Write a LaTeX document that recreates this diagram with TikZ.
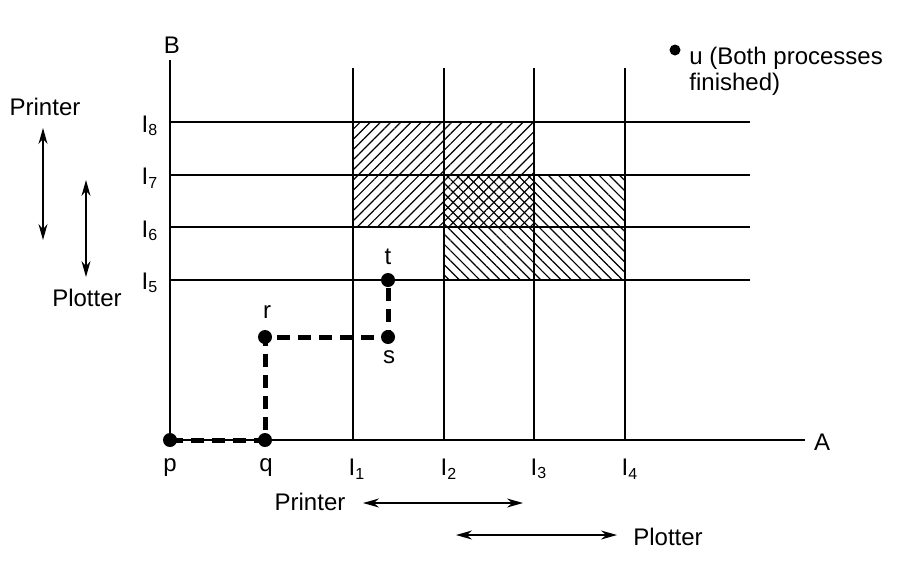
\documentclass[tikz,border=0pt]{standalone}
\usepackage{fontspec}
\setmainfont{Liberation Sans}
\usetikzlibrary{arrows.meta,patterns.meta}
\tikzset{
  axisline/.style={line width=1.2pt},
  gridline/.style={line width=0.7pt},
  dot/.style={circle,fill=black,inner sep=0pt,minimum size=7pt},
  pathline/.style={line width=2.5pt,dash pattern=on 6.5pt off 4pt},
  rangearrow/.style={line width=0.6pt,{Stealth[length=8pt,width=4.5pt]}-{Stealth[length=8pt,width=4.5pt]}},
  printerhatch/.style={pattern={Lines[angle=45,distance=3.6pt,line width=0.6pt]}},
  plotterhatch/.style={pattern={Lines[angle=-45,distance=3.6pt,line width=0.6pt]}},
  lbl/.style={inner sep=1pt,font=\fontsize{12}{13}\selectfont}
}
\begin{document}
\begin{tikzpicture}[x=0.5pt,y=-0.5pt]
      \useasboundingbox (0,0) rectangle (920,574);
      % hatched regions
      \fill[printerhatch] (353,122) rectangle (534,227);
      \fill[plotterhatch] (444,175) rectangle (625,280);
      \draw[gridline] (353,122) rectangle (534,227);
      \draw[gridline] (444,175) rectangle (625,280);
      % grid
      \draw
        (170,440) coordinate (o)
        (170,60) coordinate (btop)
        (805,440) coordinate (aend)
        (353,68) coordinate (c1) (353,440) coordinate (d1)
        (444,68) coordinate (c2) (444,440) coordinate (d2)
        (534,68) coordinate (c3) (534,440) coordinate (d3)
        (625,68) coordinate (c4) (625,440) coordinate (d4)
        (170,122) coordinate (e8) (750,122) coordinate (f8)
        (170,175) coordinate (e7) (750,175) coordinate (f7)
        (170,227) coordinate (e6) (750,227) coordinate (f6)
        (170,280) coordinate (e5) (750,280) coordinate (f5);
      \begin{scope}[gridline]
        \draw (c1) to (d1);
        \draw (c2) to (d2);
        \draw (c3) to (d3);
        \draw (c4) to (d4);
        \draw (e8) to (f8);
        \draw (e7) to (f7);
        \draw (e6) to (f6);
        \draw (e5) to (f5);
      \end{scope}
      \begin{scope}[axisline]
        \draw (btop) to (o);
        \draw (o) to (aend);
      \end{scope}
      % axis labels
      \node[lbl] (B) at (172,45) {B};
      \node[lbl] (A) at (822,442) {A};
      \node[lbl] (i8) at (150,126) {I\textsubscript{8}};
      \node[lbl] (i7) at (150,178) {I\textsubscript{7}};
      \node[lbl] (i6) at (150,231) {I\textsubscript{6}};
      \node[lbl] (i5) at (150,283) {I\textsubscript{5}};
      \node[lbl] (i1) at (357,469) {I\textsubscript{1}};
      \node[lbl] (i2) at (449,469) {I\textsubscript{2}};
      \node[lbl] (i3) at (539,469) {I\textsubscript{3}};
      \node[lbl] (i4) at (630,469) {I\textsubscript{4}};
      % trajectory
      \draw
        (170,440) node[dot] (p){}
        (265,440) node[dot] (q){}
        (265,337) node[dot] (r){}
        (388,337) node[dot] (s){}
        (388,280) node[dot] (t){};
      \draw[pathline] (p.center) -- (q.center) -- (r.center) -- (s.center) -- (t.center);
      \node[lbl] (plbl) at (170,468) {p};
      \node[lbl] (qlbl) at (266,468) {q};
      \node[lbl] (rlbl) at (267,312) {r};
      \node[lbl] (slbl) at (389,357) {s};
      \node[lbl] (tlbl) at (388,257) {t};
      % resource ranges
      \node[lbl] (prnB) at (45,107) {Printer};
      \node[lbl] (pltB) at (87,298) {Plotter};
      \draw (43,128) coordinate (prnB1) (43,240) coordinate (prnB2)
            (86,180) coordinate (pltB1) (86,277) coordinate (pltB2);
      \draw[rangearrow] (prnB1) to (prnB2);
      \draw[rangearrow] (pltB1) to (pltB2);
      \node[lbl] (prnA) at (310,502) {Printer};
      \node[lbl] (pltA) at (668,537) {Plotter};
      \draw (363,503) coordinate (prnA1) (523,503) coordinate (prnA2)
            (456,535) coordinate (pltA1) (617,535) coordinate (pltA2);
      \draw[rangearrow] (prnA1) to (prnA2);
      \draw[rangearrow] (pltA1) to (pltA2);
      % end point
      \node[dot,minimum size=5.5pt] (u) at (675,50) {};
      \node[lbl,anchor=north west,align=left] (ulbl) at (687,45) {u (Both processes\\finished)};
    \end{tikzpicture}
\end{document}
